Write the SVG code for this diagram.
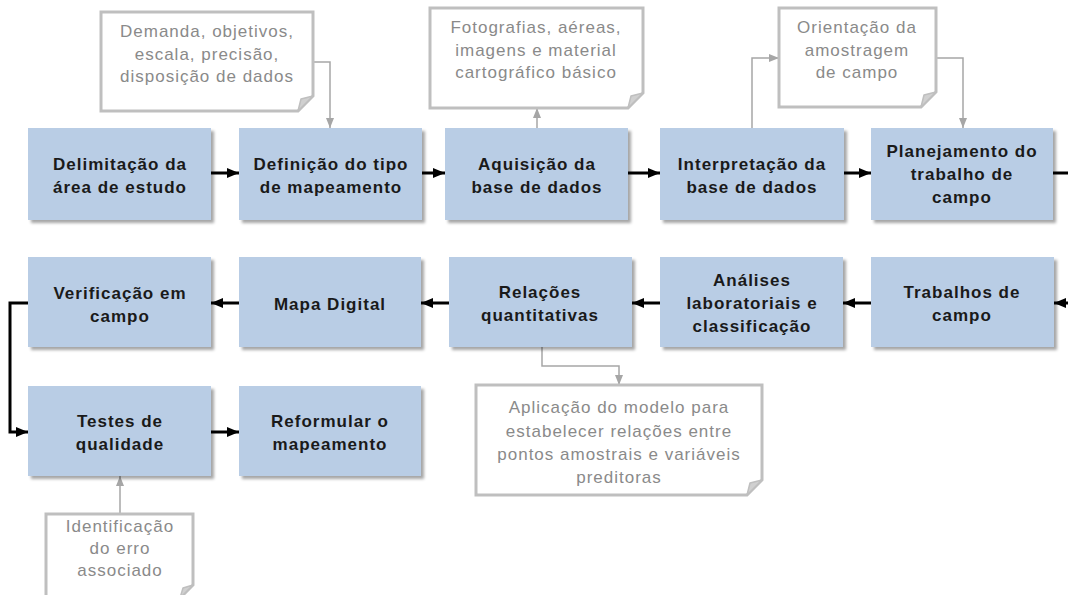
<svg xmlns="http://www.w3.org/2000/svg" width="1068" height="595" viewBox="0 0 1068 595">
<defs>
<style>
.box{fill:#b9cde5;filter:url(#sh)}
.bt{font-family:"Liberation Sans",Arial,sans-serif;font-size:17px;font-weight:bold;fill:#1a1a1a;text-anchor:middle;letter-spacing:1px}
.note{fill:#ffffff;stroke:#bfbfbf;stroke-width:3}
.fold{fill:#d0d0d0;stroke:#bfbfbf;stroke-width:1.5;stroke-linejoin:round}
.nt{font-family:"Liberation Sans",Arial,sans-serif;font-size:17px;fill:#8a8a8a;text-anchor:middle;letter-spacing:1px}
.blk{fill:none;stroke:#000;stroke-width:3;marker-end:url(#ab)}
.gry{fill:none;stroke:#a6a6a6;stroke-width:1.5;marker-end:url(#ag)}
</style>
<filter id="sh" x="-5%" y="-5%" width="115%" height="120%">
<feDropShadow dx="3" dy="3" stdDeviation="1.5" flood-color="#000" flood-opacity="0.35"/>
</filter>
<marker id="ab" markerUnits="userSpaceOnUse" markerWidth="12" markerHeight="12" viewBox="0 0 12 12" refX="12" refY="6" orient="auto">
<path d="M0,1 L12,6 L0,11 Z" fill="#000"/>
</marker>
<marker id="ag" markerUnits="userSpaceOnUse" markerWidth="10" markerHeight="10" viewBox="0 0 10 10" refX="10" refY="5" orient="auto">
<path d="M0,1 L10,5 L0,9 Z" fill="#a6a6a6"/>
</marker>
</defs>
<rect width="1068" height="595" fill="#ffffff"/>

<g id="connectors">
<path class="blk" d="M211,173 H239"/>
<path class="blk" d="M422,173 H445"/>
<path class="blk" d="M628,173 H660"/>
<path class="blk" d="M844,173 H871"/>
<path fill="none" stroke="#000" stroke-width="3" d="M1053,173 H1070"/>
<path class="blk" d="M1070,303 H1054"/>
<path class="blk" d="M871,303 H843"/>
<path class="blk" d="M660,303 H632"/>
<path class="blk" d="M449,303 H421"/>
<path class="blk" d="M239,303 H211"/>
<path class="blk" d="M28,303 H10 V432 H28"/>
<path class="blk" d="M211,432 H239"/>
<path class="gry" d="M313,62 H330 V128"/>
<path class="gry" d="M537,128 V108"/>
<path class="gry" d="M752,128 V58 H779"/>
<path class="gry" d="M936,58 H963 V128"/>
<path class="gry" d="M120,514 V476"/>
<path class="gry" d="M542,347 V366 H619 V385"/>
</g>

<g id="n1"><rect class="box" x="28" y="128" width="183" height="92"/>
<text class="bt" x="120" y="170">Delimitação da</text><text class="bt" x="120" y="193">área de estudo</text></g>
<g id="n2"><rect class="box" x="239" y="128" width="183" height="92"/>
<text class="bt" x="331" y="170">Definição do tipo</text><text class="bt" x="331" y="193">de mapeamento</text></g>
<g id="n3"><rect class="box" x="445" y="128" width="183" height="92"/>
<text class="bt" x="537" y="170">Aquisição da</text><text class="bt" x="537" y="193">base de dados</text></g>
<g id="n4"><rect class="box" x="660" y="128" width="184" height="92"/>
<text class="bt" x="752" y="170">Interpretação da</text><text class="bt" x="752" y="193">base de dados</text></g>
<g id="n5"><rect class="box" x="871" y="128" width="182" height="92"/>
<text class="bt" x="962" y="157">Planejamento do</text><text class="bt" x="962" y="180">trabalho de</text><text class="bt" x="962" y="203">campo</text></g>

<g id="n6"><rect class="box" x="871" y="257" width="183" height="90"/>
<text class="bt" x="962" y="298">Trabalhos de</text><text class="bt" x="962" y="321">campo</text></g>
<g id="n7"><rect class="box" x="660" y="257" width="183" height="90"/>
<text class="bt" x="752" y="286">Análises</text><text class="bt" x="752" y="309">laboratoriais e</text><text class="bt" x="752" y="332">classificação</text></g>
<g id="n8"><rect class="box" x="449" y="257" width="183" height="90"/>
<text class="bt" x="540" y="298">Relações</text><text class="bt" x="540" y="321">quantitativas</text></g>
<g id="n9"><rect class="box" x="239" y="257" width="182" height="90"/>
<text class="bt" x="330" y="310">Mapa Digital</text></g>
<g id="n10"><rect class="box" x="28" y="257" width="183" height="90"/>
<text class="bt" x="120" y="299">Verificação em</text><text class="bt" x="120" y="322">campo</text></g>
<g id="n11"><rect class="box" x="28" y="386" width="183" height="90"/>
<text class="bt" x="120" y="427">Testes de</text><text class="bt" x="120" y="450">qualidade</text></g>
<g id="n12"><rect class="box" x="239" y="386" width="182" height="90"/>
<text class="bt" x="330" y="427">Reformular o</text><text class="bt" x="330" y="450">mapeamento</text></g>

<g id="note1"><path class="note" d="M101,12 H313 V96 L298,111 H101 Z"/><path class="fold" d="M313,96 L298,111 L301,99 Z"/>
<text class="nt" x="207" y="37">Demanda, objetivos,</text><text class="nt" x="207" y="60">escala, precisão,</text><text class="nt" x="207" y="82">disposição de dados</text></g>
<g id="note2"><path class="note" d="M430,8 H643 V93 L628,108 H430 Z"/><path class="fold" d="M643,93 L628,108 L631,96 Z"/>
<text class="nt" x="536" y="33">Fotografias, aéreas,</text><text class="nt" x="536" y="56">imagens e material</text><text class="nt" x="536" y="78">cartográfico básico</text></g>
<g id="note3"><path class="note" d="M779,8 H936 V92 L921,107 H779 Z"/><path class="fold" d="M936,92 L921,107 L924,95 Z"/>
<text class="nt" x="857" y="33">Orientação da</text><text class="nt" x="857" y="56">amostragem</text><text class="nt" x="857" y="78">de campo</text></g>
<g id="note4"><path class="note" d="M476,385 H762 V480 L747,495 H476 Z"/><path class="fold" d="M762,480 L747,495 L750,483 Z"/>
<text class="nt" x="619" y="413">Aplicação do modelo para</text><text class="nt" x="619" y="437">estabelecer relações entre</text><text class="nt" x="619" y="460">pontos amostrais e variáveis</text><text class="nt" x="619" y="483">preditoras</text></g>
<g id="note5"><path class="note" d="M46,514 H193 V585 L180,598 H46 Z"/><path class="fold" d="M193,585 L180,598 L183,588 Z"/>
<text class="nt" x="120" y="532">Identificação</text><text class="nt" x="120" y="554">do erro</text><text class="nt" x="120" y="576">associado</text></g>
</svg>
